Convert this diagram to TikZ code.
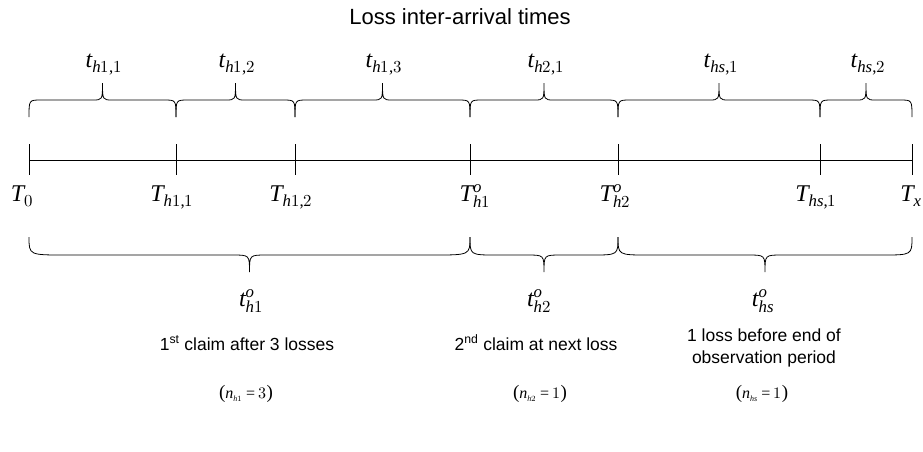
\documentclass[tikz,border=0pt]{standalone}
\usepackage{fontspec}
\usepackage{unicode-math}
\setmainfont{Liberation Sans}
\newfontfamily\serifpar{Liberation Serif}
\setmathfont{Latin Modern Math}
\setmathfont[range=it]{Liberation Serif Italic}
\setmathfont[range={"0030-"0039,"002C,"003D,"0028,"0029}]{Liberation Serif}
\newcommand\cbr[7]{% x1,x2,yend,yflat,ytip,r,r2
  \pgfmathsetmacro\bm{(#1+#2)/2}%
  \draw[brc] (#1,#3) .. controls (#1,#4) .. (#1+#6,#4) -- (\bm-#7,#4)
    .. controls (\bm,#4) .. (\bm,#5) .. controls (\bm,#4) .. (\bm+#7,#4)
    -- (#2-#6,#4) .. controls (#2,#4) .. (#2,#3);}
\newcommand\bpar[1]{{\serifpar\fontsize{19}{19}\selectfont(}$\thickmuskip=4mu #1${\serifpar\fontsize{19}{19}\selectfont)}}
\begin{document}
\begin{tikzpicture}[x=1pt,y=-1pt,
  brc/.style={line width=0.8pt},
  axis/.style={line width=0.8pt},
  mlab/.style={font=\fontsize{24}{26}\selectfont,inner sep=0pt},
  txt/.style={font=\fontsize{17.5}{22}\selectfont,inner sep=0pt,align=center},
  nlab/.style={font=\fontsize{16}{18}\selectfont,inner sep=0pt},
  title/.style={font=\fontsize{22}{24}\selectfont,inner sep=0pt}]
\useasboundingbox (0,0) rectangle (923,451);
\node[title] (ttl) at (460,17) {Loss inter-arrival times};
% tick coordinates
\coordinate (p0) at (29,160);
\coordinate (p1) at (176,160);
\coordinate (p2) at (295,160);
\coordinate (p3) at (470,160);
\coordinate (p4) at (618,160);
\coordinate (p5) at (820,160);
\coordinate (p6) at (912,160);
\draw[axis] (p0) -- (p6);
\foreach \p in {p0,p1,p2,p3,p4,p5,p6}
  \draw[axis] (\p) ++(0,-16) -- ++(0,31);
% upper braces
\cbr{29}{176}{117}{100}{83}{12}{10}
\cbr{176}{295}{117}{100}{83}{12}{10}
\cbr{295}{470}{117}{100}{83}{12}{10}
\cbr{470}{618}{117}{100}{83}{12}{10}
\cbr{618}{820}{117}{100}{83}{12}{10}
\cbr{820}{912}{117}{100}{83}{12}{10}
% lower braces
\cbr{29}{470}{237}{255}{272}{36}{17}
\cbr{470}{618}{237}{255}{272}{26}{17}
\cbr{618}{912}{237}{255}{272}{30}{17}
% upper labels
\node[mlab,anchor=base] (u1) at (104,67) {$t_{h1,1}$};
\node[mlab,anchor=base] (u2) at (237,67) {$t_{h1,2}$};
\node[mlab,anchor=base] (u3) at (384,67) {$t_{h1,3}$};
\node[mlab,anchor=base] (u4) at (546,67) {$t_{h2,1}$};
\node[mlab,anchor=base] (u5) at (721,67) {$t_{hs,1}$};
\node[mlab,anchor=base] (u6) at (868,67) {$t_{hs,2}$};
% T labels
\node[mlab,anchor=base] (l0) at (22,201) {$T_0$};
\node[mlab,anchor=base] (l1) at (172,201) {$T_{h1,1}$};
\node[mlab,anchor=base] (l2) at (291,201) {$T_{h1,2}$};
\node[mlab,anchor=base] (l3) at (475,201) {$T^{o}_{h1}$};
\node[mlab,anchor=base] (l4) at (615,201) {$T^{o}_{h2}$};
\node[mlab,anchor=base] (l5) at (816,201) {$T_{hs,1}$};
\node[mlab,anchor=base] (l6) at (911,201) {$T_x$};
% lower labels
\node[mlab,anchor=base] (d1) at (251,306) {$t^{o}_{h1}$};
\node[mlab,anchor=base] (d2) at (539,306) {$t^{o}_{h2}$};
\node[mlab,anchor=base] (d3) at (763,306) {$t^{o}_{hs}$};
% descriptions
\node[txt,anchor=base] (e1) at (247,350) {1\textsuperscript{st} claim after 3 losses};
\node[txt,anchor=base] (e2) at (536,350) {2\textsuperscript{nd} claim at next loss};
\node[txt,anchor=base] (e3) at (764,363) {1 loss before end of\\observation period};
\node[nlab,anchor=base] (n1) at (246,398) {\bpar{n_{\scriptscriptstyle h1}=3}};
\node[nlab,anchor=base] (n2) at (540,398) {\bpar{n_{\scriptscriptstyle h2}=1}};
\node[nlab,anchor=base] (n3) at (762,398) {\bpar{n_{\scriptscriptstyle hs}=1}};
\end{tikzpicture}
\end{document}
